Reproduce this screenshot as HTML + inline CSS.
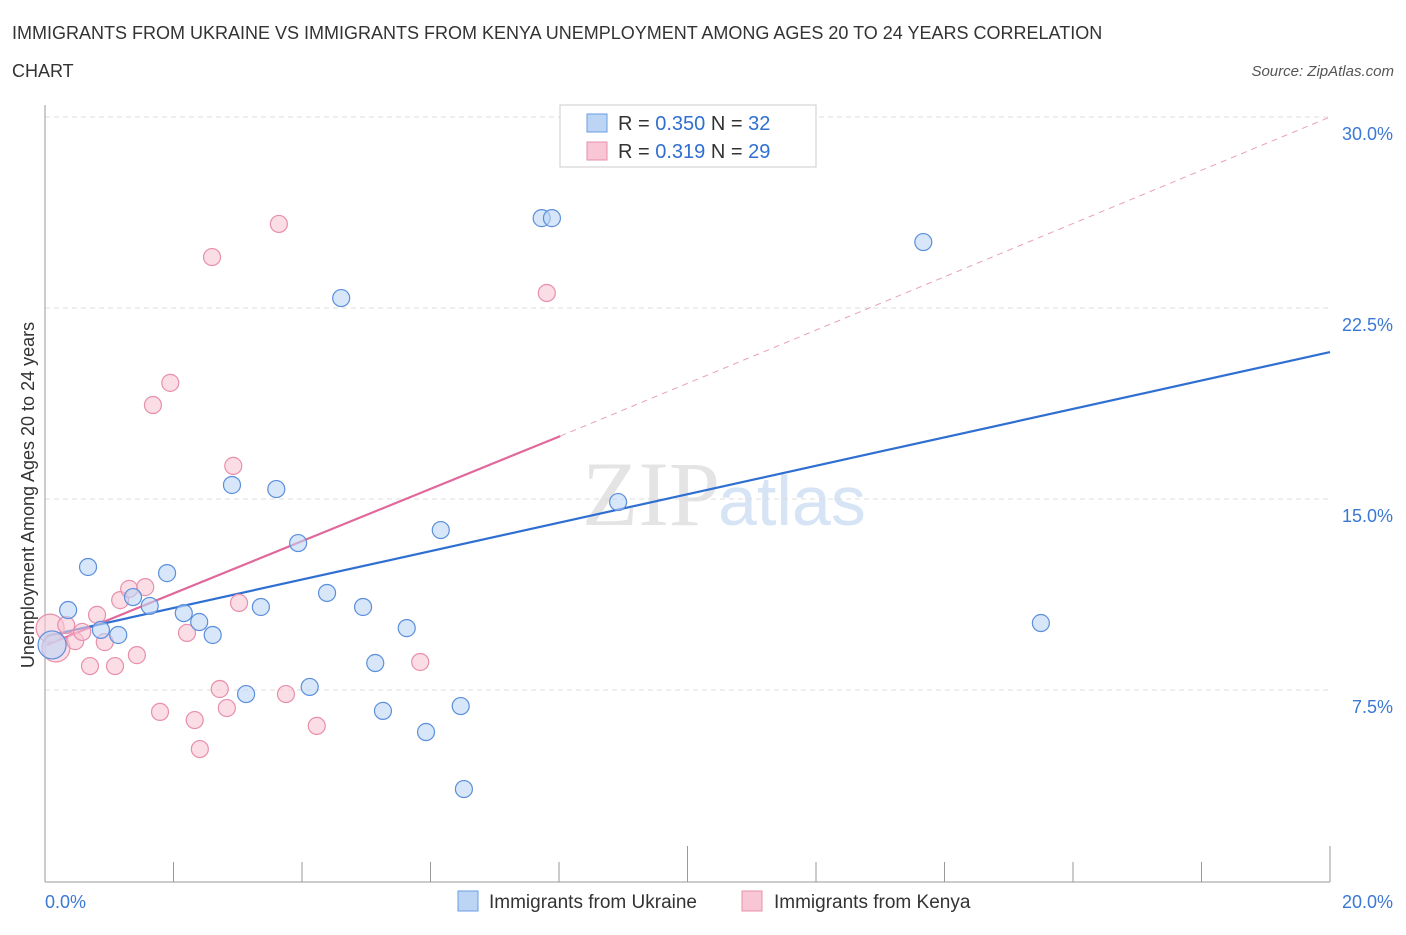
<!DOCTYPE html>
<html><head><meta charset="utf-8"><style>
body{margin:0;background:#fff;font-family:"Liberation Sans",sans-serif;}
</style></head><body>
<svg id="c" width="1406" height="930" xmlns="http://www.w3.org/2000/svg" style="font-family:'Liberation Sans',sans-serif">
<text x="12" y="39" font-size="18" fill="#333">IMMIGRANTS FROM UKRAINE VS IMMIGRANTS FROM KENYA UNEMPLOYMENT AMONG AGES 20 TO 24 YEARS CORRELATION</text>
<text x="12" y="77" font-size="18" fill="#333">CHART</text>
<text x="1394" y="76" font-size="15" fill="#555" font-style="italic" text-anchor="end">Source: ZipAtlas.com</text>
<text x="720" y="525" font-size="92" fill="#e4e4e4" text-anchor="end" font-family="Liberation Serif">ZIP</text>
<text x="718" y="525" font-size="70" fill="#d6e4f5">atlas</text>
<g id="grid"></g><g id="lines"></g><g id="pts"></g>
<text transform="translate(34,495) rotate(-90)" font-size="18" fill="#333" text-anchor="middle">Unemployment Among Ages 20 to 24 years</text>
<g>
<rect x="560" y="105" width="256" height="62" fill="#fff" stroke="#ccc"/>
<rect x="587" y="114" width="20" height="18" fill="#bcd5f5" stroke="#6a9be0"/>
<rect x="587" y="142" width="20" height="18" fill="#f8c6d5" stroke="#e88fab"/>
<text x="618" y="130" font-size="20" fill="#333">R = <tspan fill="#2f6fd1">0.350</tspan>   N = <tspan fill="#2f6fd1">32</tspan></text>
<text x="618" y="158" font-size="20" fill="#333">R =  <tspan fill="#2f6fd1">0.319</tspan>   N = <tspan fill="#2f6fd1">29</tspan></text>
</g>
<g>
<rect x="458" y="891" width="20" height="20" fill="#bcd5f5" stroke="#6a9be0"/>
<text x="489" y="908" font-size="19" fill="#333">Immigrants from Ukraine</text>
<rect x="742" y="891" width="20" height="20" fill="#f8c6d5" stroke="#e88fab"/>
<text x="774" y="908" font-size="19" fill="#333">Immigrants from Kenya</text>
</g>
</svg>
<script>
const yTicks=[7.5,15,22.5,30];
const yTickLabels=["7.5%","15.0%","22.5%","30.0%"];
const xTicks=[0,2,4,6,8,10,12,14,16,18,20];
const xEndLabels=["0.0%","20.0%"];
const ukX=[0.36,0.67,0.87,1.14,1.37,1.63,1.90,2.16,2.40,2.61,2.91,3.13,3.36,3.60,3.94,4.12,4.39,4.61,4.95,5.14,5.26,5.63,5.93,6.16,6.47,6.52,7.73,7.89,8.92,13.67,15.50,0.11];
const ukY=[10.64,12.33,9.86,9.66,11.15,10.80,12.09,10.52,10.17,9.66,15.55,7.34,10.76,15.39,13.27,7.62,11.31,22.89,10.76,8.56,6.68,9.93,5.85,13.78,6.87,3.61,26.03,26.03,14.88,25.09,10.13,9.27];
const keX=[0.08,0.17,0.33,0.47,0.58,0.70,0.81,0.93,1.09,1.17,1.31,1.43,1.56,1.68,1.79,1.95,2.21,2.33,2.41,2.60,2.72,2.83,3.02,2.93,3.64,3.75,4.23,5.84,7.81];
const keY=[9.93,9.15,10.05,9.42,9.78,8.44,10.45,9.38,8.44,11.03,11.47,8.87,11.54,18.69,6.64,19.56,9.74,6.32,5.18,24.50,7.54,6.79,10.92,16.30,25.80,7.34,6.09,8.60,23.09];
const ukTrend=[0.03,9.62,20,20.77];
const keTrend=[0.03,9.27,8.02,17.47];
const keDash=[8.02,17.47,20,30];
const X=v=>45+v/20*1285, Y=v=>881-v/7.5*191;
const NS="http://www.w3.org/2000/svg";
function mk(p,t,a){const e=document.createElementNS(NS,t);for(const k in a)e.setAttribute(k,a[k]);document.getElementById(p).appendChild(e);return e;}
yTicks.forEach((t,i)=>{
 const l=mk('grid','line',{x1:45,x2:1330,y1:Y(t),y2:Y(t),stroke:'#ddd','stroke-dasharray':'5,4'});
 
 
 const tx=mk('grid','text',{x:1393,y:Y(t)+23,'font-size':18,fill:'#3a78d4','text-anchor':'end'});
 tx.textContent=yTickLabels[i];
 
 
});
const ax=mk('grid','line',{x1:45,x2:45,y1:105,y2:882,stroke:'#999'});


const bx=mk('grid','line',{x1:45,x2:1330,y1:882,y2:882,stroke:'#999'});


xTicks.forEach(t=>{
 const l=mk('grid','line',{x1:X(t),x2:X(t),y1:882,y2:t%10==0&&t>0?846:862,stroke:'#999'});
 
 
});
[[0,'start',45],[20,'end',1393]].forEach((d,i)=>{
 const tx=mk('grid','text',{x:d[2],y:908,'font-size':18,fill:'#3a78d4','text-anchor':d[1]});
 tx.textContent=xEndLabels[i];
 
 
});
function line(a,c,w,dash,name){
 const l=mk('lines','line',{x1:X(a[0]),y1:Y(a[1]),x2:X(a[2]),y2:Y(a[3]),stroke:c,'stroke-width':w});
 if(dash)l.setAttribute('stroke-dasharray',dash);
 
 
}
function pts(xs,ys,fill,stroke,name){
 xs.forEach((x,i)=>{
  const c=mk('pts','circle',{cx:X(x),cy:Y(ys[i]),r:x<0.2?14:8.5,fill:fill,'fill-opacity':0.6,stroke:stroke,'stroke-width':1.2});
  
  
 });
}
pts(keX,keY,'#f8c6d5','#e88fab','kenya-point');
pts(ukX,ukY,'#bcd5f5','#5b8fdb','ukraine-point');
line(keDash,'#e8a0b8',1,'6,5','kenya-trend-extension');
line(keTrend,'#e0689a',2.2,null,'kenya-trend-line');
line(ukTrend,'#2f6fd1',2.2,null,'ukraine-trend-line');
</script>
</body></html>
